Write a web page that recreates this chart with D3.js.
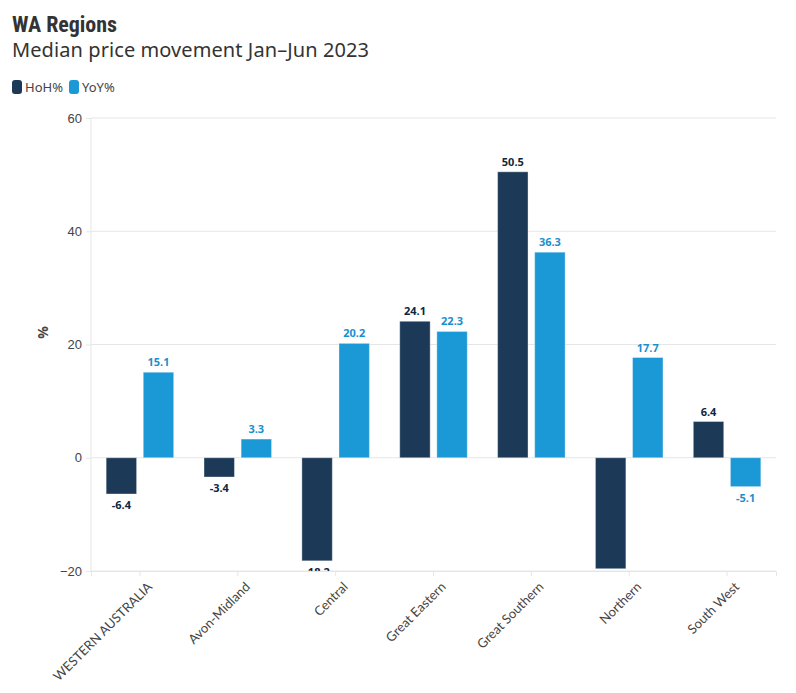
<!DOCTYPE html>
<html><head><meta charset="utf-8">
<script src="https://cdn.jsdelivr.net/npm/d3@7"></script>
<style>body{margin:0;background:#fff;font-family:"Source Sans Pro","Noto Sans",Lato,sans-serif;}</style>
</head><body><svg id="c" width="796" height="693"></svg>
<script>
const categories = ["WESTERN AUSTRALIA","Avon-Midland","Central","Great Eastern","Great Southern","Northern","South West"];
const seriesNames = ["HoH%","YoY%"];
const hohValues = [-6.4,-3.4,-18.2,24.1,50.5,-19.6,6.4];
const yoyValues = [15.1,3.3,20.2,22.3,36.3,17.7,-5.1];
const yTicks = [-20,0,20,40,60];
const barColors = ["#1c3a57","#1b98d6"];
const labelColors = ["#0e2740","#1a8fd0"];

const svg = d3.select("#c");
const m = {l:91, r:776, t:118, b:571};
const x = d3.scaleBand().domain(categories).range([m.l,m.r]).paddingInner(0.31).paddingOuter(0.155);
const x1 = d3.scaleBand().domain(seriesNames).range([0,x.bandwidth()]).paddingInner(0.18);
const y = d3.scaleLinear().domain([-20,60]).range([m.b,m.t]);

// title
svg.append("text").attr("x",12).attr("y",32).text("WA Regions")
  .style("font-family","'Roboto Condensed',Roboto,sans-serif").style("font-weight","700").style("font-size","22px").attr("fill","#333").attr("textLength",105);
svg.append("text").attr("x",12).attr("y",57).text("Median price movement Jan\u2013Jun 2023")
  .style("font-size","20px").attr("fill","#333").attr("textLength",357);
// legend
const lg = svg.append("g");
let lx = 12;
seriesNames.forEach((s,i)=>{
  lg.append("rect").attr("x",lx).attr("y",80).attr("width",10).attr("height",14).attr("rx",3).attr("fill",barColors[i]);
  lg.append("text").attr("x",lx+13).attr("y",92).text(s).style("font-size","13px").attr("fill","#444");
  lx += 57;
});

// grid
svg.append("g").selectAll("line").data(yTicks).join("line")
  .attr("x1",m.l).attr("x2",m.r).attr("y1",d=>y(d)).attr("y2",d=>y(d)).attr("stroke","#e6e6e6");
svg.append("line").attr("x1",m.l).attr("x2",m.l).attr("y1",m.t).attr("y2",m.b).attr("stroke","#e6e6e6");
// y axis
const ya = svg.append("g").attr("transform",`translate(${m.l},0)`).call(d3.axisLeft(y).tickValues(yTicks).tickSize(5).tickPadding(4));
ya.select(".domain").remove();
ya.selectAll(".tick line").attr("stroke","#e6e6e6");
ya.selectAll("text").style("font-size","13px").attr("fill","#444");
svg.append("text").attr("transform",`translate(48,${(m.t+m.b)/2-12}) rotate(-90)`).attr("text-anchor","middle")
  .text("%").style("font-size","14px").style("font-weight","700").attr("fill","#444");
// x axis
const xa = svg.append("g").attr("transform",`translate(0,${m.b})`).call(d3.axisBottom(x).tickSize(5).tickPadding(3));
xa.select(".domain").attr("stroke","#e6e6e6");
xa.selectAll(".tick line").attr("stroke","#e6e6e6");
xa.selectAll("text").attr("text-anchor","end").attr("dx","-0.2em").attr("dy","1em")
  .attr("transform","rotate(-45)").style("font-size","13px").style("font-family","Lato,sans-serif").attr("fill","#444");

// clip
svg.append("clipPath").attr("id","clip").append("rect").attr("x",m.l).attr("y",m.t-30).attr("width",m.r-m.l).attr("height",m.b-m.t+30);
const data = categories.map((c,i)=>({c, vals:[hohValues[i],yoyValues[i]]}));
const g = svg.append("g").attr("clip-path","url(#clip)");
data.forEach(d=>{
  d.vals.forEach((v,j)=>{
    const bx = x(d.c)+x1(seriesNames[j]);
    g.append("rect").attr("x",bx).attr("width",x1.bandwidth())
      .attr("y",y(Math.max(0,v))).attr("height",Math.abs(y(v)-y(0)))
      .attr("fill",barColors[j]).attr("stroke","rgba(255,255,255,0.35)").attr("stroke-width",1);
    g.append("text").attr("x",bx+x1.bandwidth()/2)
      .attr("y", v>=0 ? y(v)-6 : y(v)+15)
      .attr("text-anchor","middle").text(v.toFixed(1))
      .style("font-size","11px").style("font-weight","700").attr("fill",labelColors[j]);
  });
});
</script></body></html>
